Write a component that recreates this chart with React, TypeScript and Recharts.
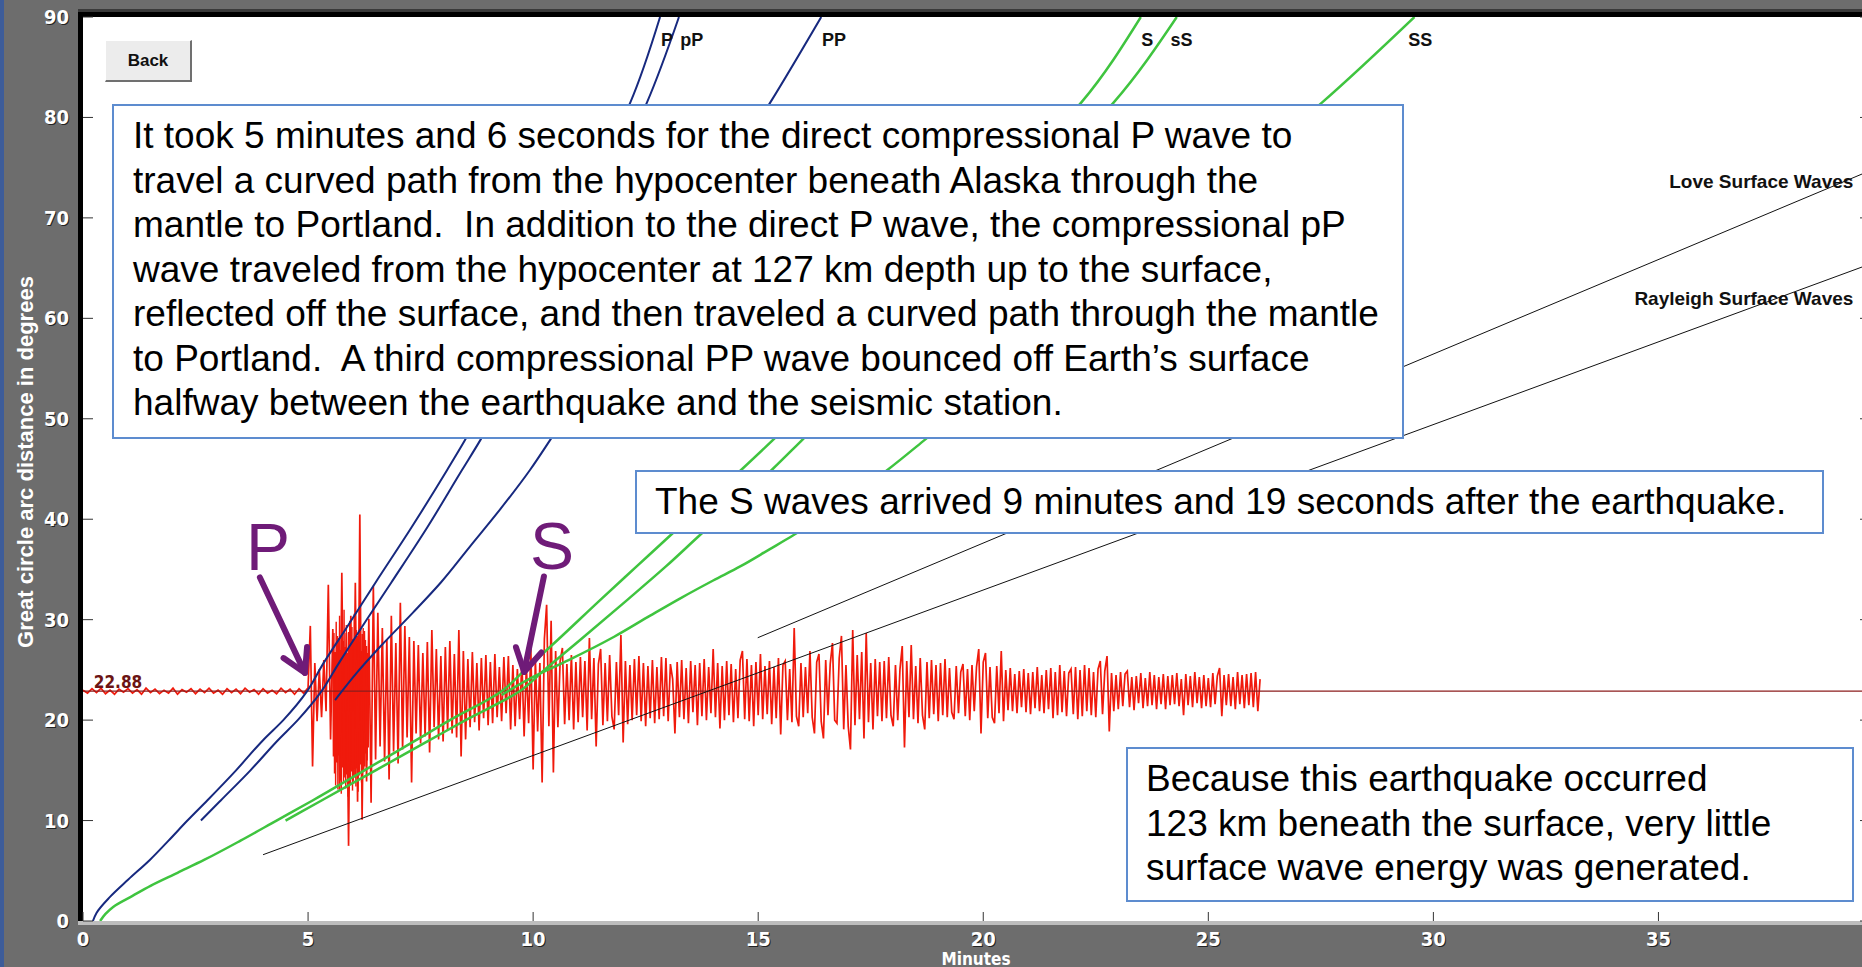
import React from "react";
import { LineChart, Line, XAxis, YAxis, ReferenceDot, ReferenceLine } from "recharts";

const BASE = 22.88;
const X_TICKS = [0, 5, 10, 15, 20, 25, 30, 35];
const Y_TICKS = [0, 10, 20, 30, 40, 50, 60, 70, 80, 90];

// seismogram, deviation in degrees from the 22.88° station line
const PRE_STEP = 0.1;
const PRE_EVENT = [
  0.1, -0.2, 0.25, -0.15, 0.3, -0.25, 0.1, -0.3, 0.2, -0.1,
  0.25, -0.2, 0.15, -0.3, 0.3, -0.15, 0.2, -0.25, 0.1, -0.2,
  0.3, -0.3, 0.15, -0.1, 0.25, -0.25, 0.2, -0.15, 0.3, -0.2,
  0.1, -0.3, 0.25, -0.15, 0.2, -0.25, 0.3, -0.1, 0.15, -0.3,
  0.25, -0.2, 0.1, -0.25, 0.3, -0.15, 0.2, -0.3, 0.25, -0.2,
  0.35,
];
const EVENT_START = 5.05;
const EVENT_STEP = 0.05;
const EVENT = [
  6.5, -7.5, 2.8, -3.0, 2.2, -2.6, 3.1, -2.0, 10.6, -4.8, 6.2, -8.0, 5.5, -9.8, 11.8, -8.6, 5.8, -15.4, 7.5, -9.0,
  10.8, -11.0, 17.6, -12.8, 6.0, -9.0, 7.2, -11.1, 10.5, -6.8, 7.8, -5.5, 6.3, -7.0, 5.2, -8.8, 7.5, -6.0, 4.8, -7.2,
  8.8, -5.8, 6.5, -4.6, 5.4, -9.1, 5.0, -4.2, 4.6, -5.2, 3.8, -4.5, 4.9, -6.1, 6.1, -3.6, 4.2, -4.8, 3.5, -5.0,
  4.4, -3.9, 5.0, -4.2, 3.7, -4.6, 6.1, -6.5, 4.0, -4.8, 3.2, -3.6, 3.9, -3.1, 2.8, -3.9, 3.3, -2.7, 3.6, -3.4,
  2.9, -3.2, 3.7, -2.6, 2.4, -3.0, 3.4, -2.2, 3.5, -3.8, 2.6, -3.5, 2.2, -2.8, 3.0, -4.5, 2.5, -3.2, 4.2, -7.8,
  3.2, -4.0, 2.8, -9.1, 5.2, 8.6, -3.5, 7.0, -8.1, 4.0, -3.6, 3.0, 4.3, -3.3, 2.7, -2.9, 3.6, -3.8, 2.9, -3.1,
  3.4, -2.6, 3.0, -3.9, 5.3, -2.8, 3.3, -5.5, 2.7, 4.2, -3.4, 2.8, -3.0, 3.6, -2.5, -3.8, 2.9, -2.4, 5.6, -5.1,
  3.0, -3.3, 2.6, -2.9, 3.2, -2.4, 3.5, -3.0, 2.8, -3.5, 2.5, -2.7, 3.1, -3.2, 2.4, -2.8, 3.4, -2.5, 3.3, -3.0,
  2.7, 1.2, -4.2, 2.9, -2.6, 3.1, -2.8, 2.3, -3.2, 3.0, -2.1, 2.6, -3.4, 2.8, -2.5, 3.2, -2.9, 2.4, -2.2, 4.2,
  -2.6, 2.8, -3.7, 2.5, -2.9, 3.0, -2.4, 2.7, -3.1, 2.2, -2.7, 3.1, 4.0, -2.8, 3.2, -3.0, 2.6, -3.5, 2.9, -2.4,
  3.7, -2.8, 2.5, -2.3, 3.0, -3.3, 2.4, -2.7, 3.3, -4.3, 2.6, 3.0, -2.9, 2.2, -3.1, 6.3, -2.5, -3.5, 2.8, -2.6,
  2.4, -2.2, 4.0, -2.6, -4.2, 2.9, 3.7, -3.0, -4.7, 3.1, -2.4, 2.7, 4.8, -2.9, -3.2, 3.3, 5.5, -3.8, 2.6, -3.5,
  -5.8, 6.1, -3.4, 3.6, -2.8, 3.9, -4.7, 5.8, -3.1, 2.8, -3.8, 3.2, -2.5, 2.9, -3.0, 3.0, -2.7, 3.4, -2.4, -3.5,
  2.6, -2.9, 2.2, 4.5, -5.6, 3.0, -2.6, 4.6, -2.8, 2.5, -3.2, 3.3, -2.4, -3.8, 2.9, -2.7, 3.1, -2.3, 2.6, -3.0,
  2.8, -2.4, 3.2, -2.6, 2.3, -2.1, -2.8, 2.5, -2.2, 1.9, 2.7, -2.5, 2.2, -2.9, 2.6, -2.0, 2.4, 4.2, -4.2, 2.9,
  3.8, -2.7, 2.4, -2.6, -3.2, 2.5, -2.2, 4.0, -3.0, 2.1, -1.9, 2.3, -2.0, 1.7, -2.2, 2.0, -1.6, 2.2, -2.1, 1.8,
  -2.3, 1.9, -1.7, 2.4, -2.0, 1.6, -2.2, 2.1, -1.8, 2.3, -2.7, 1.9, -2.4, 2.6, -2.1, 2.0, -2.5, 1.8, 2.2, -2.3,
  2.4, -2.8, 2.1, -2.5, 2.6, -2.0, 2.3, -2.4, 1.9, -2.6, 2.2, 3.0, -2.3, 2.0, 3.5, -4.0, 1.8, -2.0, 1.6, -1.8,
  1.9, -1.5, 1.7, 2.0, -1.6, 1.4, -1.9, 1.5, -1.2, 1.8, -1.7, 1.3, -1.5, 1.9, -1.4, 1.6, -1.8, 1.4, -1.3, 1.7,
  -1.8, 1.5, -1.4, 1.6, -1.3, 1.8, -1.5, 1.2, -2.4, 1.7, -1.4, 1.5, -1.6, 1.9, -1.2, 1.4, -1.7, 1.6, -1.5, 1.3,
  -1.6, 1.8, -1.3, 1.5, 2.3, -2.5, 1.6, -1.4, 1.7, -1.5, 1.4, -1.8, 1.9, -1.3, 1.6, -1.7, 1.7, -1.4, 1.8, -1.6,
  1.9, -2.0, 1.2,
];
// dense core of the P coda, where the trace is a solid block of red
const CORE_START = 5.55;
const CORE_STEP = 0.0125;
const CORE = [
  4.2, -6.5, 5.8, -8.2, 3.9, -9.4, 6.9, -7.1, 4.6, -9.8, 5.3, -6.4, 7.5, -8.9, 4.1, -10.2,
  6.2, -7.6, 5.0, -9.0, 8.1, -6.9, 4.4, -9.7, 6.6, -8.3, 3.8, -10.5, 5.9, -7.2, 7.0, -9.3,
  4.7, -8.0, 6.4, -9.9, 5.2, -7.0, 7.7, -8.6, 4.3, -9.5, 6.1, -7.7, 5.5, -10.0, 4.9, -8.4,
  6.8, -7.3, 4.0, -9.1, 5.7, -6.8, 6.3, -8.0, 3.6, -7.5, 5.1, -6.2, 4.5, -6.9, 3.8, -5.6, 3.2,
];

// travel-time curves: [minutes, degrees]
const P_CURVE = [
  [0.22, 0], [0.3, 0.8], [0.6, 2.4], [1.0, 4.1], [1.49, 6.1], [1.9, 8], [2.32, 10], [2.76, 12], [3.4, 15],
  [4.0, 18], [4.45, 20], [4.98, 22.88], [5.32, 25.5], [5.87, 29.3], [6.5, 33.7], [7.3, 39.2], [8.09, 44.9],
  [8.49, 47.9], [9.3, 55], [9.9, 60], [10.45, 65], [10.95, 70], [11.45, 75], [12.16, 81.5], [12.82, 90],
];
const PP_DEPTH_CURVE = [
  [2.62, 10], [3.06, 12], [3.72, 15], [4.33, 18], [4.77, 20], [5.3, 22.88], [5.66, 25.5], [6.2, 29.3],
  [6.85, 33.7], [7.65, 39.2], [8.42, 44.9], [8.83, 47.9], [9.65, 55], [10.26, 60], [10.82, 65], [11.33, 70],
  [11.84, 75], [12.53, 81.5], [13.24, 90],
];
const PP_CURVE = [
  [5.6, 22], [6.1, 24.8], [6.6, 27.3], [7.33, 30.7], [7.95, 33.7], [8.6, 37.3], [9.2, 40.6], [9.93, 44.9],
  [10.38, 47.9], [11.4, 55], [12.2, 60], [12.95, 65], [13.65, 70], [14.35, 75], [15.27, 81.5], [16.4, 90],
];
const S_CURVE = [
  [0.38, 0], [0.5, 0.7], [0.67, 1.4], [1.1, 2.5], [1.5, 3.5], [2.1, 4.8], [2.7, 6.1], [3.5, 8], [4.3, 10],
  [5.1, 12], [6.25, 15], [7.4, 18], [8.15, 20], [9.3, 22.88], [9.82, 25], [10.55, 28], [11.5, 32], [12.3, 35.3],
  [13.1, 38.6], [13.92, 42], [14.62, 44.9], [15.33, 47.9], [16.9, 55], [17.95, 60], [18.95, 65], [19.9, 70],
  [20.8, 75], [22.18, 81.5], [23.5, 90],
];
const SS_DEPTH_CURVE = [
  [4.5, 10], [5.3, 12], [6.5, 15], [7.7, 18], [8.5, 20], [9.7, 22.88], [10.25, 25], [11.05, 28], [12.1, 32],
  [12.95, 35.3], [13.75, 38.6], [14.6, 42], [15.3, 44.9], [15.98, 47.9], [17.6, 55], [18.65, 60], [19.65, 65],
  [20.6, 70], [21.5, 75], [22.9, 81.5], [24.3, 90],
];
const SS_CURVE = [
  [9.3, 22.5], [10.0, 24.3], [10.8, 26], [11.8, 28.3], [12.6, 30.4], [13.3, 32.2], [14.0, 33.9], [14.6, 35.3],
  [15.25, 37.0], [15.78, 38.4], [16.85, 41.5], [17.87, 44.9], [18.7, 47.9], [20.6, 55], [21.9, 60], [23.2, 65],
  [24.5, 70], [25.8, 75], [27.53, 81.5], [29.58, 90],
];
const LOVE = [[14.99, 28.2], [39.7, 74.7]];
const RAYLEIGH = [[4.0, 6.6], [39.7, 65.4]];

const PHASE_LABELS = [
  { name: "P", t: 12.84, d: 87.15, anchor: "start", size: 18 },
  { name: "pP", t: 13.27, d: 87.15, anchor: "start", size: 18 },
  { name: "PP", t: 16.42, d: 87.15, anchor: "start", size: 18 },
  { name: "S", t: 23.51, d: 87.15, anchor: "start", size: 18 },
  { name: "sS", t: 24.16, d: 87.15, anchor: "start", size: 18 },
  { name: "SS", t: 29.44, d: 87.15, anchor: "start", size: 18 },
  { name: "Love Surface Waves", t: 39.33, d: 73.0, anchor: "end", size: 19 },
  { name: "Rayleigh Surface Waves", t: 39.33, d: 61.35, anchor: "end", size: 19 },
];

const ARROWS = [
  { label: "P", from: [3.93, 34.2], to: [4.93, 24.7] },
  { label: "S", from: [10.24, 34.3], to: [9.8, 24.8] },
];

const BLUE = "#17297f";
const GREEN = "#3fc43f";
const RED = "#f01a0c";
const PURPLE = "#6f1b78";
const TICK_FONT = "'DejaVu Sans Condensed', 'DejaVu Sans', sans-serif";
const TEXT_FONT = "'Liberation Sans', Arial, sans-serif";

const pts = (arr: number[][]) => arr.map(([t, d]) => ({ t, d }));

const trace = [
  ...PRE_EVENT.map((a, i) => ({ t: +(i * PRE_STEP).toFixed(2), d: BASE + a })),
  ...EVENT.map((a, i) => ({ t: +(EVENT_START + i * EVENT_STEP).toFixed(2), d: BASE + a })),
];
const core = CORE.map((a, i) => ({ t: +(CORE_START + i * CORE_STEP).toFixed(4), d: BASE + a }));
const baseline = [{ t: 0, d: BASE }, { t: 39.7, d: BASE }];

const tickText = {
  fontFamily: TICK_FONT,
  fontStretch: "condensed",
  fontWeight: "bold",
  fontSize: 20,
} as const;

function BottomTick({ x, y, payload }: any) {
  return (
    <g>
      <line x1={x} x2={x} y1={y} y2={y - 9} stroke="#333" />
      <text x={x + 1} y={y + 26} textAnchor="middle" fill="#222" {...tickText}>{payload.value}</text>
      <text x={x} y={y + 25} textAnchor="middle" fill="#fff" {...tickText}>{payload.value}</text>
    </g>
  );
}
function TopTick({ x, y }: any) {
  return <line x1={x} x2={x} y1={y} y2={y + 8} stroke="#333" />;
}
function LeftTick({ x, y, payload }: any) {
  return (
    <g>
      <line x1={x} x2={x + 10} y1={y} y2={y} stroke="#333" />
      <text x={x - 13} y={y + 8} textAnchor="end" fill="#222" {...tickText}>{payload.value}</text>
      <text x={x - 14} y={y + 7} textAnchor="end" fill="#fff" {...tickText}>{payload.value}</text>
    </g>
  );
}
function RightTick({ x, y }: any) {
  return <line x1={x} x2={x - 10} y1={y} y2={y} stroke="#333" />;
}

function arrowShape(label: string) {
  return (p: any) => {
    const { x1, y1, x2, y2 } = p;
    const dx = x2 - x1;
    const dy = y2 - y1;
    const len = Math.hypot(dx, dy);
    const ux = dx / len;
    const uy = dy / len;
    const c = Math.cos(Math.PI / 6);
    const s = Math.sin(Math.PI / 6);
    const L = 26;
    const w1 = [x2 - L * (c * ux - s * uy), y2 - L * (s * ux + c * uy)];
    const w2 = [x2 - L * (c * ux + s * uy), y2 - L * (-s * ux + c * uy)];
    return (
      <g>
        <line x1={x1} y1={y1} x2={x2} y2={y2} stroke={PURPLE} strokeWidth={6} strokeLinecap="round" />
        <polyline
          points={`${w1[0]},${w1[1]} ${x2},${y2} ${w2[0]},${w2[1]}`}
          fill="none"
          stroke={PURPLE}
          strokeWidth={6}
          strokeLinecap="round"
          strokeLinejoin="round"
        />
        <text x={x1 + 8} y={y1 - 7} textAnchor="middle" fontFamily={TEXT_FONT} fontSize={66} fill={PURPLE}>
          {label}
        </text>
      </g>
    );
  };
}

const boxStyle: React.CSSProperties = {
  position: "absolute",
  boxSizing: "border-box",
  background: "#fff",
  border: "2px solid #5d8ccf",
  fontFamily: TEXT_FONT,
  fontSize: 37,
  lineHeight: "44.5px",
  color: "#000",
  whiteSpace: "pre",
};

export default function App() {
  return (
    <div style={{ position: "relative", width: 1862, height: 967, overflow: "hidden", background: "#6d6d6d" }}>
      <style>{`body{margin:0}`}</style>
      <div style={{ position: "absolute", left: 0, top: 0, width: 4, height: 967, background: "#3d5c99" }} />
      <div style={{ position: "absolute", left: 78, top: 9, width: 1800, height: 4, background: "#3a3a3a" }} />
      <div style={{ position: "absolute", left: 78, top: 12, width: 1800, height: 5, background: "#000" }} />
      <div style={{ position: "absolute", left: 78, top: 12, width: 5, height: 909, background: "#000" }} />
      <div style={{ position: "absolute", left: 83, top: 17, width: 1800, height: 904, background: "#fff" }} />
      <div style={{ position: "absolute", left: 78, top: 921, width: 1800, height: 4, background: "#bdbdbd" }} />

      <div style={{ position: "absolute", left: 0, top: 0 }}>
        <LineChart width={1872} height={967} margin={{ top: 0, right: 0, bottom: 0, left: 0 }}>
          <XAxis
            xAxisId="b"
            dataKey="t"
            type="number"
            domain={[0, 39.7]}
            allowDataOverflow
            ticks={X_TICKS}
            height={46}
            tickSize={0}
            tickMargin={0}
            tickLine={false}
            axisLine={false}
            tick={<BottomTick />}
            interval={0}
          />
          <XAxis
            xAxisId="t"
            orientation="top"
            type="number"
            domain={[0, 39.7]}
            allowDataOverflow
            ticks={X_TICKS}
            height={17}
            tickSize={0}
            tickMargin={0}
            tickLine={false}
            axisLine={false}
            tick={<TopTick />}
            interval={0}
          />
          <YAxis
            yAxisId="l"
            dataKey="d"
            type="number"
            domain={[0, 90]}
            allowDataOverflow
            ticks={Y_TICKS}
            width={83}
            tickSize={0}
            tickMargin={0}
            tickLine={false}
            axisLine={false}
            tick={<LeftTick />}
            interval={0}
          />
          <YAxis
            yAxisId="r"
            orientation="right"
            type="number"
            domain={[0, 90]}
            allowDataOverflow
            ticks={Y_TICKS}
            width={2}
            tickSize={0}
            tickMargin={0}
            tickLine={false}
            axisLine={false}
            tick={<RightTick />}
            interval={0}
          />

          <Line xAxisId="b" yAxisId="l" data={core} dataKey="d" type="linear" stroke={RED} strokeWidth={1.4} dot={false} isAnimationActive={false} />
          <Line xAxisId="b" yAxisId="l" data={trace} dataKey="d" type="linear" stroke={RED} strokeWidth={1.7} dot={false} isAnimationActive={false} />
          <Line xAxisId="b" yAxisId="l" data={baseline} dataKey="d" type="linear" stroke="#8b1c1c" strokeWidth={1.2} dot={false} isAnimationActive={false} />

          <Line xAxisId="b" yAxisId="l" data={pts(LOVE)} dataKey="d" type="linear" stroke="#111" strokeWidth={1} dot={false} isAnimationActive={false} />
          <Line xAxisId="b" yAxisId="l" data={pts(RAYLEIGH)} dataKey="d" type="linear" stroke="#111" strokeWidth={1} dot={false} isAnimationActive={false} />

          <Line xAxisId="b" yAxisId="l" data={pts(S_CURVE)} dataKey="d" type="monotoneY" stroke={GREEN} strokeWidth={2.5} dot={false} isAnimationActive={false} />
          <Line xAxisId="b" yAxisId="l" data={pts(SS_DEPTH_CURVE)} dataKey="d" type="monotoneY" stroke={GREEN} strokeWidth={2.5} dot={false} isAnimationActive={false} />
          <Line xAxisId="b" yAxisId="l" data={pts(SS_CURVE)} dataKey="d" type="monotoneY" stroke={GREEN} strokeWidth={2.5} dot={false} isAnimationActive={false} />

          <Line xAxisId="b" yAxisId="l" data={pts(P_CURVE)} dataKey="d" type="monotoneY" stroke={BLUE} strokeWidth={2} dot={false} isAnimationActive={false} />
          <Line xAxisId="b" yAxisId="l" data={pts(PP_DEPTH_CURVE)} dataKey="d" type="monotoneY" stroke={BLUE} strokeWidth={2} dot={false} isAnimationActive={false} />
          <Line xAxisId="b" yAxisId="l" data={pts(PP_CURVE)} dataKey="d" type="monotoneY" stroke={BLUE} strokeWidth={2} dot={false} isAnimationActive={false} />

          <ReferenceDot
            xAxisId="b"
            yAxisId="l"
            x={0.24}
            y={23.2}
            r={0}
            shape={(s: any) => (
              <text x={s.cx} y={s.cy} fill="#6b1414" {...tickText} fontSize={17}>
                {BASE.toFixed(2)}
              </text>
            )}
          />

          {PHASE_LABELS.map((p) => (
            <ReferenceDot
              key={p.name}
              xAxisId="b"
              yAxisId="l"
              x={p.t}
              y={p.d}
              r={0}
              shape={(s: any) => (
                <text x={s.cx} y={s.cy} textAnchor={p.anchor} fontFamily={TEXT_FONT} fontWeight="bold" fontSize={p.size} fill="#111">
                  {p.name}
                </text>
              )}
            />
          ))}

          {ARROWS.map((a) => (
            <ReferenceLine
              key={a.label}
              xAxisId="b"
              yAxisId="l"
              segment={[{ x: a.from[0], y: a.from[1] }, { x: a.to[0], y: a.to[1] }]}
              ifOverflow="visible"
              shape={arrowShape(a.label)}
            />
          ))}
        </LineChart>
      </div>

      <div
        style={{
          position: "absolute",
          left: 26,
          top: 462,
          transform: "translate(-50%, -50%) rotate(-90deg)",
          whiteSpace: "nowrap",
          color: "#fff",
          fontFamily: TEXT_FONT,
          fontWeight: "bold",
          fontSize: 22,
        }}
      >
        Great circle arc distance in degrees
      </div>
      <div
        style={{
          position: "absolute",
          left: 976,
          top: 951,
          transform: "translateX(-50%)",
          color: "#fff",
          fontFamily: TICK_FONT,
          fontStretch: "condensed",
          fontWeight: "bold",
          fontSize: 17,
          lineHeight: "16px",
        }}
      >
        Minutes
      </div>

      <div
        style={{
          position: "absolute",
          left: 105,
          top: 40,
          width: 87,
          height: 42,
          boxSizing: "border-box",
          background: "#ececec",
          borderStyle: "solid",
          borderWidth: "1px 2px 2px 1px",
          borderColor: "#fff #707070 #707070 #fff",
          fontFamily: TEXT_FONT,
          fontWeight: "bold",
          fontSize: 17,
          lineHeight: "39px",
          textAlign: "center",
          color: "#111",
        }}
      >
        Back
      </div>

      <div style={{ ...boxStyle, left: 112, top: 104, width: 1292, height: 335, padding: "8px 0 0 19px" }}>
        {"It took 5 minutes and 6 seconds for the direct compressional P wave to\n" +
          "travel a curved path from the hypocenter beneath Alaska through the\n" +
          "mantle to Portland.  In addition to the direct P wave, the compressional pP\n" +
          "wave traveled from the hypocenter at 127 km depth up to the surface,\n" +
          "reflected off the surface, and then traveled a curved path through the mantle\n" +
          "to Portland.  A third compressional PP wave bounced off Earth\u2019s surface\n" +
          "halfway between the earthquake and the seismic station."}
      </div>
      <div style={{ ...boxStyle, left: 635, top: 470, width: 1189, height: 64, padding: "8px 0 0 18px" }}>
        The S waves arrived 9 minutes and 19 seconds after the earthquake.
      </div>
      <div style={{ ...boxStyle, left: 1126, top: 747, width: 728, height: 155, padding: "8px 0 0 18px" }}>
        {"Because this earthquake occurred\n123 km beneath the surface, very little\nsurface wave energy was generated."}
      </div>
    </div>
  );
}
